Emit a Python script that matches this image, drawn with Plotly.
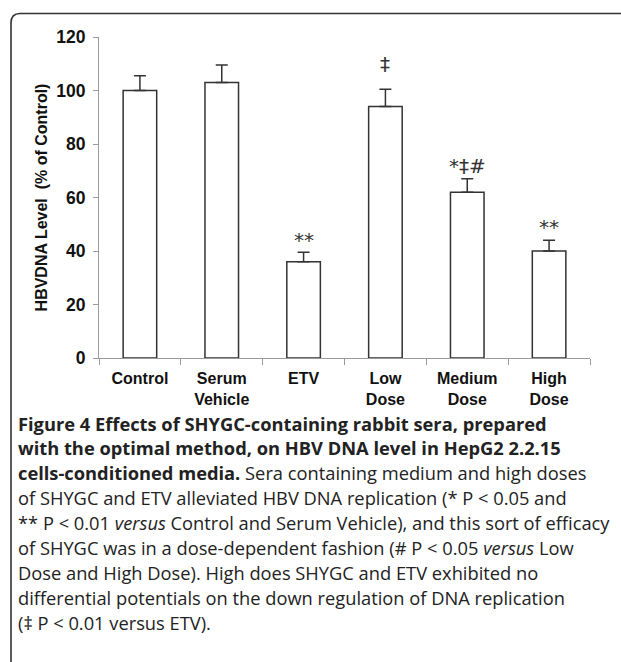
import plotly.graph_objects as go

categories = ["Control", "Serum<br>Vehicle", "ETV", "Low<br>Dose", "Medium<br>Dose", "High<br>Dose"]
values = [100, 103, 36, 94, 62, 40]
errors = [5.5, 6.5, 3.5, 6.5, 5, 4]
markers = ["", "", "**", "‡", "*‡#", "**"]
y_ticks = [0, 20, 40, 60, 80, 100, 120]

caption_lines = [
    "<b>Figure 4 Effects of SHYGC-containing rabbit sera, prepared</b>",
    "<b>with the optimal method, on HBV DNA level in HepG2 2.2.15</b>",
    "<b>cells-conditioned media.</b> Sera containing medium and high doses",
    "of SHYGC and ETV alleviated HBV DNA replication (* P < 0.05 and",
    "** P < 0.01 <i>versus</i> Control and Serum Vehicle), and this sort of efficacy",
    "of SHYGC was in a dose-dependent fashion (# P < 0.05 <i>versus</i> Low",
    "Dose and High Dose). High does SHYGC and ETV exhibited no",
    "differential potentials on the down regulation of DNA replication",
    "(‡ P < 0.01 versus ETV).",
]

# styling: extra gap (px) between error-bar cap and significance label
marker_gap = [0, 0, 0, 13, 1, 1]

W, H = 621, 662
L, R, T, B = 99, 31, 37, 304
pw, ph = W - L - R, H - T - B


def px(x):
    return (x - L) / pw


def py(y):
    return (H - B - y) / ph


fig = go.Figure()
fig.add_trace(go.Bar(
    x=categories, y=values, width=0.41,
    marker=dict(color="white", line=dict(color="#333", width=1.5)),
    error_y=dict(type="data", array=errors, arrayminus=[0] * len(errors), symmetric=False,
                 color="#333", thickness=1.5, width=6),
    showlegend=False,
))

annotations = []
for c, v, e, m, g in zip(categories, values, errors, markers, marker_gap):
    if m:
        annotations.append(dict(
            x=c, y=v + e, xref="x", yref="y", text=m, showarrow=False,
            yanchor="bottom", yshift=g - 2,
            font=dict(family="DejaVu Sans", size=20, color="#333"),
        ))

line_h = 24.9
for i, t in enumerate(caption_lines):
    annotations.append(dict(
        x=px(16), y=py(423 + i * line_h), xref="paper", yref="paper",
        text=t, showarrow=False, xanchor="left", yanchor="middle", align="left",
        font=dict(family="Open Sans", size=18.3, color="#222"),
    ))

border = (f"M {px(11)},{py(H + 5)} L {px(11)},{py(23)} "
          f"Q {px(11)},{py(13.5)} {px(20)},{py(13.5)} L {px(W + 5)},{py(13.5)}")

fig.update_layout(
    width=W, height=H,
    margin=dict(l=L, r=R, t=T, b=B, autoexpand=False),
    paper_bgcolor="white", plot_bgcolor="white",
    xaxis=dict(
        type="category", showline=True, linecolor="#9a9a9a", linewidth=1,
        ticks="outside", tickson="boundaries", ticklen=6, tickcolor="#9a9a9a",
        ticklabelstandoff=6,
        tickfont=dict(family="Liberation Sans", size=16, color="#111", weight="bold"),
        showgrid=False, zeroline=False,
    ),
    yaxis=dict(
        range=[0, 120], tickvals=y_ticks, showline=True, linecolor="#9a9a9a", linewidth=1,
        ticks="outside", ticklen=5, tickcolor="#9a9a9a", ticklabelstandoff=4,
        tickfont=dict(family="Liberation Sans", size=17.5, color="#111", weight="bold"),
        showgrid=False, zeroline=False,
        title=dict(text="HBVDNA Level  (% of Control)", standoff=4,
                   font=dict(family="Liberation Sans", size=16, color="#111", weight="bold")),
    ),
    annotations=annotations,
    shapes=[dict(type="path", path=border, xref="paper", yref="paper",
                 line=dict(color="#333", width=1.6))],
)

fig.write_html("out.html", config={"displayModeBar": False},
               post_script="document.body.style.margin='0';")
